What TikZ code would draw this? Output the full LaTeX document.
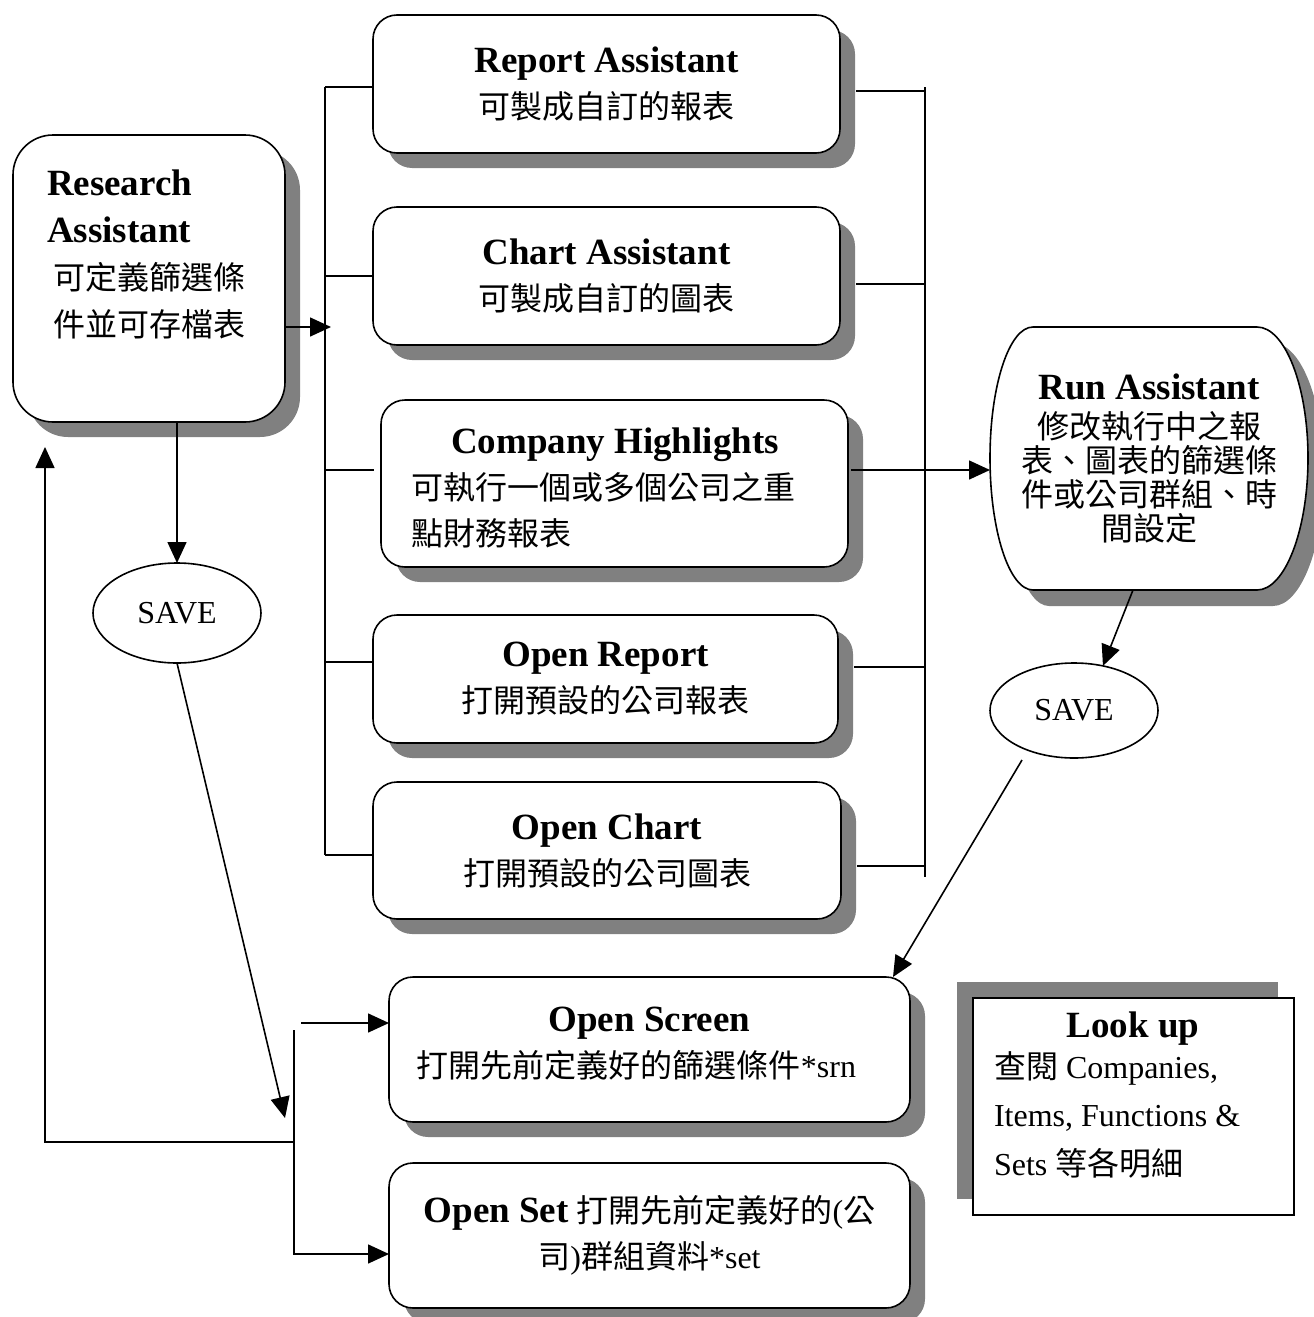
\documentclass[tikz,border=0pt]{standalone}
\usepackage{fontspec}
\setmainfont{Liberation Serif}
\newfontfamily\cjk{Noto Sans CJK TC}
\usetikzlibrary{shadows,arrows.meta,shapes.geometric}
\definecolor{shd}{RGB}{128,128,128}
\newcommand\zh[1]{{\cjk #1}}
\newcommand\hd[1]{{\fontsize{37}{46}\selectfont\bfseries #1}}
\begin{document}
\begin{tikzpicture}[x=1pt,y=-1pt,
  every node/.style={inner sep=0pt, outer sep=0pt, font=\fontsize{32}{46}\selectfont},
  box/.style={draw, line width=1.6pt, fill=white, rounded corners=24pt, align=center,
     general shadow={fill=shd, shadow xshift=15pt, shadow yshift=-15pt}},
  oval/.style={draw, line width=1.6pt, ellipse, minimum width=168pt, minimum height=100pt, fill=white, font=\fontsize{32}{36}\selectfont},
  conn/.style={line width=1.6pt},
  arr/.style={line width=1.6pt, -{Triangle[length=21pt,width=19pt]}},
  txt/.style={align=left, anchor=north west}
]
\useasboundingbox (0,0) rectangle (1314,1317);

% Research Assistant
\node[box, rounded corners=40pt, minimum width=272pt, minimum height=287pt] (ra) at (149,278.5) {};
\node[txt, font=\fontsize{32}{47}\selectfont] (rat) at (47,170) {\hd{Research}\\\hd{Assistant}\\\hspace*{6pt}\zh{可定義篩選條}\\\hspace*{6pt}\zh{件並可存檔表}};

% middle column
\node[box, minimum width=467pt, minimum height=138pt] (rep) at (606.5,84) {\hd{Report Assistant}\\\zh{可製成自訂的報表}};
\node[box, minimum width=467pt, minimum height=138pt] (cha) at (606.5,276) {\hd{Chart Assistant}\\\zh{可製成自訂的圖表}};
\node[box, minimum width=467pt, minimum height=167pt] (ch) at (614.5,483.5) {};
\node[txt] (cht) at (411,428) {\makebox[408pt][c]{\hd{Company Highlights}}\\\zh{可執行一個或多個公司之重}\\\zh{點財務報表}};
\node[box, minimum width=465pt, minimum height=128pt] (orp) at (605.5,679) {\hd{Open Report}\\\zh{打開預設的公司報表}};
\node[box, minimum width=468pt, minimum height=137pt] (och) at (607,850.5) {\hd{Open Chart}\\\zh{打開預設的公司圖表}};

% bottom boxes
\node[box, minimum width=521pt, minimum height=145pt] (osc) at (649.5,1049.5) {\hd{Open Screen}\\\zh{打開先前定義好的篩選條件}*srn\rule{26pt}{0pt}\\[-32pt]\mbox{}};
\node[box, minimum width=521pt, minimum height=145pt] (ost) at (649.5,1235.5) {\hd{Open Set} \zh{打開先前定義好的}(\zh{公}\\\zh{司})\zh{群組資料}*set};

% Run Assistant shape
\fill[shd] (1049,343) -- (1273,343) .. controls (1301,343) and (1324,402) .. (1324,474) .. controls (1324,546) and (1301,606) .. (1273,606) -- (1049,606) .. controls (1025,606) and (1006,546) .. (1006,474) .. controls (1006,402) and (1025,343) .. (1049,343) -- cycle;
\filldraw[fill=white, line width=1.6pt] (1033,327) -- (1257,327) .. controls (1285,327) and (1308,386) .. (1308,458) .. controls (1308,530) and (1285,590) .. (1257,590) -- (1033,590) .. controls (1009,590) and (990,530) .. (990,458) .. controls (990,386) and (1009,327) .. (1033,327) -- cycle;
\node[align=center, minimum width=318pt, minimum height=263pt, font=\fontsize{32}{34}\selectfont] (run) at (1149,458.5) {\hd{Run Assistant}\\[5pt]\zh{修改執行中之報}\\\zh{表、圖表的篩選條}\\\zh{件或公司群組、時}\\\zh{間設定}};

% SAVE ovals
\node[oval] (s1) at (177,613) {SAVE};
\node[oval, minimum height=95pt] (s2) at (1074,710.5) {SAVE};

% Look up
\node[draw, line width=1.3pt, fill=white, minimum width=321pt, minimum height=217pt,
  general shadow={fill=shd, shadow xshift=-16pt, shadow yshift=16pt}] (lu) at (1133.5,1106.5) {};
\node[txt, font=\fontsize{32}{48.5}\selectfont] (lut) at (994,1012) {\makebox[278pt][c]{\hd{Look up}}\\[-8pt]\zh{查閱} Companies,\\Items, Functions \&\\Sets \zh{等各明細}};

% left bus
\coordinate (lbt) at (325,87);
\coordinate (lbb) at (325,855);
\draw[conn] (lbt) -- (lbb);
\draw[conn] (lbt) -- (rep.west |- lbt);
\draw[conn] (cha.west -| lbt) -- (cha.west);
\coordinate (chl) at (374,470);
\draw[conn] (chl -| lbt) -- (chl);
\coordinate (orl) at ([yshift=17pt]orp.west);
\draw[conn] (orl -| lbt) -- (orl);
\draw[conn] (lbb) -- (och.west |- lbb);
\coordinate (lbin) at (331,327);
\draw[arr] (ra.east |- lbin) -- (lbin);

% right bus
\coordinate (rbt) at (925,87);
\coordinate (rbb) at (925,877);
\draw[conn] (rbt) -- (rbb);
\coordinate (r1) at ([shift={(16pt,-7pt)}]rep.east);
\draw[conn] (r1) -- (r1 -| rbt);
\coordinate (r2) at ([shift={(16pt,-8pt)}]cha.east);
\draw[conn] (r2) -- (r2 -| rbt);
\coordinate (chr) at (851,470);
\draw[arr] (chr) -- (run.west |- chr);
\coordinate (r4) at ([shift={(16pt,12pt)}]orp.east);
\draw[conn] (r4) -- (r4 -| rbt);
\coordinate (r5) at ([shift={(16pt,-15.5pt)}]och.east);
\draw[conn] (r5) -- (r5 -| rbt);

% save arrows
\draw[arr] (s1.north |- ra.south) -- (s1.north);
\draw[arr] ([xshift=-16pt]run.south) -- (s2.57);
\coordinate (lin) at (285,1118);
\draw[arr] (s1.south) -- (lin);
\coordinate (s2o) at (1022,760);
\draw[arr] (s2o) -- ([xshift=-17pt]osc.north east);

% lower bus
\coordinate (lbt2) at (294,1030);
\coordinate (lbb2) at (294,1254);
\draw[arr] (lbt2) -- (lbb2) -- (ost.west |- lbb2);
\coordinate (osa) at (301,1023);
\draw[arr] (osa) -- (osc.west |- osa);
\coordinate (fb1) at (294,1142);
\coordinate (fb2) at (45,1142);
\coordinate (fb3) at (45,447);
\draw[arr] (fb1) -- (fb2) -- (fb3);
\end{tikzpicture}
\end{document}
